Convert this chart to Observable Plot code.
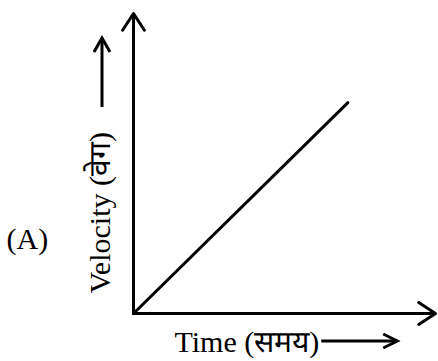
<!DOCTYPE html>
<html>
<head>
<meta charset="utf-8">
<script src="https://cdn.jsdelivr.net/npm/d3@7"></script>
<script src="https://cdn.jsdelivr.net/npm/@observablehq/plot@0.6"></script>
<style>
  html, body { margin: 0; padding: 0; background: #fff; }
  #chart svg { display: block; }
</style>
</head>
<body>
<div id="chart"></div>
<script>
// Data
const times = [0, 7.1];          // Time (arbitrary units)
const velocities = [0, 7.03];    // Velocity (arbitrary units)
const xMax = 10, yMax = 10;
const panelLabel = "(A)";
const xLabel = "Time (समय)";
const yLabel = "Velocity (वेग)";

const series = times.map((t, i) => ({t, v: velocities[i]}));
const axes = [
  {x1: 0, y1: 0, x2: xMax, y2: 0},
  {x1: 0, y1: 0, x2: 0, y2: yMax}
];

const font = "'Liberation Serif', 'Times New Roman', 'Noto Serif', serif";

const fig = Plot.plot({
  width: 438,
  height: 361,
  marginLeft: 133,
  marginRight: 3,
  marginTop: 13,
  marginBottom: 48,
  x: {domain: [0, xMax], axis: null},
  y: {domain: [0, yMax], axis: null},
  style: {fontFamily: font, background: "#fff", color: "#000"},
  marks: [
    Plot.line(series, {x: "t", y: "v", stroke: "#000", strokeWidth: 3}),
    Plot.arrow(axes, {x1: "x1", y1: "y1", x2: "x2", y2: "y2", stroke: "#000", strokeWidth: 3, headLength: 10, headAngle: 66}),
    Plot.text([xLabel], {text: d => d, frameAnchor: "bottom-left", textAnchor: "start", dx: 41, dy: 38.5, fontSize: 30, fill: "#000", className: "xlab"}),
    Plot.text([yLabel], {text: d => d, frameAnchor: "bottom-left", textAnchor: "start", rotate: -90, dx: -23.5, dy: -20, fontSize: 30, fill: "#000", className: "ylab"}),
    Plot.text([panelLabel], {text: d => d, frameAnchor: "left", textAnchor: "start", dx: -127, dy: 76, fontSize: 30, fill: "#000"})
  ]
});
document.getElementById("chart").appendChild(fig);

// Label arrows, positioned relative to the rendered label texts
const svg = d3.select(fig);
function chevronArrow(x1, y1, x2, y2, len, half) {
  const g = svg.append("g").attr("stroke", "#000").attr("fill", "none").attr("stroke-width", 3);
  g.append("line").attr("x1", x1).attr("y1", y1).attr("x2", x2).attr("y2", y2);
  const ang = Math.atan2(y2 - y1, x2 - x1);
  const ux = Math.cos(ang), uy = Math.sin(ang);
  const bx = x2 - ux * len, by = y2 - uy * len;
  g.append("path")
    .attr("stroke-linejoin", "miter")
    .attr("d", `M${bx - uy * half},${by + ux * half}L${x2},${y2}L${bx + uy * half},${by - ux * half}`);
}
const fr = fig.getBoundingClientRect();
const xt = fig.querySelector(".xlab text");
const yt = fig.querySelector(".ylab text");
if (xt) {
  const r = xt.getBoundingClientRect();
  const right = r.right - fr.left;
  const p = xt.getStartPositionOfChar(0);
  const m = xt.getCTM();
  const baseY = m.b * p.x + m.d * p.y + m.f;
  const cy = baseY - 11;
  chevronArrow(right + 2, cy, right + 78, cy, 14, 7);
}
if (yt) {
  const r = yt.getBoundingClientRect();
  const top = r.top - fr.top;
  const p = yt.getStartPositionOfChar(0);
  const m = yt.getCTM();
  const baseX = m.a * p.x + m.c * p.y + m.e;
  const cx = baseX - 8;
  chevronArrow(cx, top - 25, cx, top - 94, 14, 8);
}
</script>
</body>
</html>
